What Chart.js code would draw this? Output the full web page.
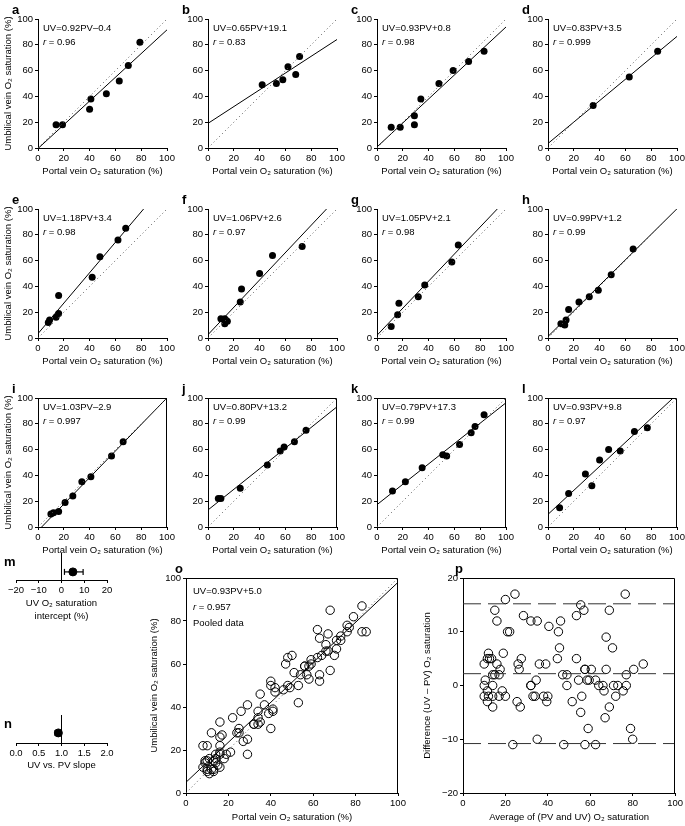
<!DOCTYPE html>
<html>
<head>
<meta charset="utf-8">
<script src="https://cdn.jsdelivr.net/npm/chart.js@4.4.0/dist/chart.umd.min.js"></script>
<style>
body { margin: 0; background: #fff; }
#wrap { position: relative; width: 685px; height: 826px; overflow: hidden; background: #fff; }
canvas { position: absolute; }
</style>
</head>
<body>
<div id="wrap"></div>
<script>
// --- data ---
const panelLetters = ['a', 'b', 'c', 'd', 'e', 'f', 'g', 'h', 'i', 'j', 'k', 'l'];

const pvA = [14, 19, 40, 41, 53, 63, 70, 79];
const uvA = [18, 18, 30, 38, 42, 52, 64, 82];
const pvB = [42, 53, 58, 62, 68, 71];
const uvB = [49, 50, 53, 63, 57, 71];
const pvC = [11, 18, 29, 29, 34, 48, 59, 71, 83];
const uvC = [16, 16, 25, 18, 38, 50, 60, 67, 75];
const pvD = [35, 63, 85];
const uvD = [33, 55, 75];
const pvE = [8, 9, 14, 16, 16, 42, 48, 62, 68];
const uvE = [12, 14, 16, 33, 19, 47, 63, 76, 85];
const pvF = [10, 13, 13, 15, 25, 26, 40, 50, 73];
const uvF = [15, 15, 11, 13, 28, 38, 50, 64, 71];
const pvG = [11, 16, 17, 32, 37, 58, 63];
const uvG = [9, 18, 27, 32, 41, 59, 72];
const pvH = [10, 13, 14, 16, 24, 32, 39, 49, 66];
const uvH = [11, 10, 14, 22, 28, 32, 37, 49, 69];
const pvI = [10, 12, 16, 21, 27, 34, 41, 57, 66];
const uvI = [10, 11, 12, 19, 24, 35, 39, 55, 66];
const pvJ = [8, 10, 25, 46, 56, 59, 67, 76];
const uvJ = [22, 22, 30, 48, 59, 62, 66, 75];
const pvK = [12, 22, 35, 51, 54, 64, 73, 76, 83];
const uvK = [28, 35, 46, 56, 55, 64, 73, 78, 87];
const pvL = [9, 16, 29, 34, 40, 47, 56, 67, 77];
const uvL = [15, 26, 41, 32, 52, 60, 59, 74, 77];

const slopes = [0.92, 0.65, 0.93, 0.83, 1.18, 1.06, 1.05, 0.99, 1.03, 0.80, 0.79, 0.93];
const intercepts = [-0.4, 19.1, 0.8, 3.5, 3.4, 2.6, 2.1, 1.2, -2.9, 13.2, 17.3, 9.8];
const rLabels = ['0.96', '0.83', '0.98', '0.999', '0.98', '0.97', '0.98', '0.99', '0.997', '0.99', '0.99', '0.97'];

const pooledFit = [0.93, 5.0];        // slope, intercept
const pooledR = '0.957';
const baLines = [15.2, 2.2, -10.8];   // upper limit, mean difference, lower limit

const interceptEst = [5.0];
const interceptCI = [1.3, 9.5];
const slopeEst = [0.93];
const slopeCI = [0.86, 1.0];

const pvValues = [pvA, pvB, pvC, pvD, pvE, pvF, pvG, pvH, pvI, pvJ, pvK, pvL];
const uvValues = [uvA, uvB, uvC, uvD, uvE, uvF, uvG, uvH, uvI, uvJ, uvK, uvL];

// --- setup ---
const FONT = "'Liberation Sans', Arial, sans-serif";
Chart.defaults.font.family = FONT;
Chart.defaults.color = '#000';
Chart.defaults.animation = false;

const wrap = document.getElementById('wrap');
function addCanvas(left, top, w, h) {
  const c = document.createElement('canvas');
  c.width = w; c.height = h;
  c.style.left = left + 'px'; c.style.top = top + 'px';
  c.style.width = w + 'px'; c.style.height = h + 'px';
  wrap.appendChild(c);
  return c;
}

const tickFont = { family: FONT, size: 9.5 };
const titleFont = { family: FONT, size: 9.5, lineHeight: 1.35 };

function axis(min, max, step, opts) {
  return {
    type: 'linear', min: min, max: max,
    ticks: {
      stepSize: step, font: tickFont, color: '#000', padding: 2, autoSkip: false, maxRotation: 0,
      callback: opts.fmt || (v => String(v).replace('-', '\u2212'))
    },
    grid: { display: true, drawOnChartArea: false, drawTicks: true, tickLength: 3, color: '#000', lineWidth: 1 },
    border: { display: true, color: '#000', width: 1 },
    title: opts.title ? { display: true, text: opts.title, font: titleFont, color: '#000', padding: { top: 2, bottom: 0 } } : { display: false },
    afterFit: s => {
      if (opts.size == null) return;
      if (s.isHorizontal()) s.height = opts.size; else s.width = opts.size;
    }
  };
}

// letters, equations and frame drawn on top of each chart
function annot(cfg) {
  return {
    id: 'annot',
    afterDraw(chart) {
      const ctx = chart.ctx, a = chart.chartArea;
      ctx.save();
      ctx.fillStyle = '#000';
      ctx.textBaseline = 'alphabetic';
      if (cfg.box) {
        ctx.strokeStyle = '#000'; ctx.lineWidth = 1;
        const l = Math.round(a.left) + 0.5, t = Math.round(a.top) + 0.5;
        const r = Math.round(a.right) - 0.5, b = Math.round(a.bottom) + 0.5;
        ctx.beginPath();
        ctx.moveTo(l, t); ctx.lineTo(r, t); ctx.lineTo(r, b);
        ctx.stroke();
      }
      if (cfg.letter) {
        ctx.font = 'bold 13px ' + FONT;
        ctx.fillText(cfg.letter, a.left + cfg.letterDx, a.top + cfg.letterDy);
      }
      (cfg.lines || []).forEach((line, k) => {
        let x = a.left + cfg.textDx;
        const y = a.top + cfg.textDy + k * cfg.lineGap;
        line.forEach(seg => {
          ctx.font = (seg[1] || '') + ' 9.5px ' + FONT;
          ctx.fillText(seg[0], x, y);
          x += ctx.measureText(seg[0]).width;
        });
      });
      ctx.restore();
    }
  };
}

function eqText(slope, icpt) {
  const sign = icpt < 0 ? '\u2013' : '+';
  return 'UV=' + slope.toFixed(2) + 'PV' + sign + Math.abs(icpt).toFixed(1);
}

function identityLine() {
  return { data: [{ x: 0, y: 0 }, { x: 100, y: 100 }], showLine: true, borderColor: '#555', borderWidth: 1, borderDash: [1, 3], pointRadius: 0 };
}
function fitLine(slope, icpt) {
  return { data: [{ x: 0, y: icpt }, { x: 100, y: slope * 100 + icpt }], showLine: true, borderColor: '#000', borderWidth: 1, pointRadius: 0 };
}

// --- panels a-l ---
const colLefts = [38, 208, 377, 548];
const rowTops = [19, 209, 398];
const PW = 129, PH = 129;

panelLetters.forEach((letter, i) => {
  const col = i % 4, row = Math.floor(i / 4);
  const yw = 38, xh = 30, padTop = 19, padRight = 14;
  const c = addCanvas(colLefts[col] - yw, rowTops[row] - padTop, yw + PW + padRight, padTop + PH + xh);
  const pts = pvValues[i].map((pv, k) => ({ x: pv, y: uvValues[i][k] }));
  new Chart(c, {
    type: 'scatter',
    data: {
      datasets: [
        identityLine(),
        fitLine(slopes[i], intercepts[i]),
        { data: pts, backgroundColor: '#000', borderColor: '#000', pointRadius: 3.5, borderWidth: 0 }
      ]
    },
    options: {
      responsive: false,
      layout: { padding: { top: padTop, right: padRight, left: 0, bottom: 0 } },
      plugins: { legend: { display: false }, tooltip: { enabled: false } },
      scales: {
        x: axis(0, 100, 20, { title: 'Portal vein O\u2082 saturation (%)', size: xh }),
        y: axis(0, 100, 20, { title: col === 0 ? 'Umbilical vein O\u2082 saturation (%)' : null, size: yw })
      }
    },
    plugins: [annot({
      box: row === 2, letter: letter, letterDx: -26, letterDy: -5,
      textDx: 5, textDy: 12, lineGap: 14,
      lines: [[[eqText(slopes[i], intercepts[i])]], [['r', 'italic'], [' = ' + rLabels[i]]]]
    })]
  });
});

// --- panels m and n: intercept and slope summaries ---
function forest(left, top, padTop, plotH, xh, min, max, step, est, ci, ref, ptY, title, fmt, letter) {
  const padL = 16, padR = 18, w = padL + 91 + padR;
  const c = addCanvas(left, top, w, padTop + plotH + xh);
  new Chart(c, {
    type: 'scatter',
    data: {
      datasets: [
        { data: [{ x: ref, y: 0 }, { x: ref, y: 1 }], showLine: true, borderColor: '#000', borderWidth: 1, pointRadius: 0 },
        { data: [{ x: ci[0], y: ptY }, { x: ci[1], y: ptY }], showLine: true, borderColor: '#000', borderWidth: 1.2,
          pointStyle: 'line', rotation: 90, pointRadius: 3, pointBorderWidth: 1.2, pointBorderColor: '#000' },
        { data: est.map(v => ({ x: v, y: ptY })), backgroundColor: '#000', borderColor: '#000', pointRadius: 4 }
      ]
    },
    options: {
      responsive: false,
      layout: { padding: { top: padTop, right: padR, left: padL, bottom: 0 } },
      plugins: { legend: { display: false }, tooltip: { enabled: false } },
      scales: {
        x: axis(min, max, step, { title: title, size: xh, fmt: fmt }),
        y: { type: 'linear', min: 0, max: 1, display: false }
      }
    },
    plugins: [annot({ letter: letter, letterDx: -12, letterDy: 13 })]
  });
}

forest(0, 545, 8, 27, 43, -20, 20, 10, interceptEst, interceptCI, 0, 0.3,
  ['UV O\u2082 saturation', 'intercept (%)'], v => String(v).replace('-', '\u2212'), 'm');
forest(0, 705, 10, 28, 29, 0, 2, 0.5, slopeEst, slopeCI, 1, 0.36,
  'UV vs. PV slope', v => v.toFixed(1), 'n');

// --- panel o: pooled ---
const pooledPts = [];
pvValues.forEach((arr, i) => arr.forEach((pv, k) => pooledPts.push({ x: pv, y: uvValues[i][k] })));
{
  const yw = 40, xh = 31, padTop = 20, padRight = 14;
  const c = addCanvas(186 - yw, 578 - padTop, yw + 212 + padRight, padTop + 215 + xh);
  new Chart(c, {
    type: 'scatter',
    data: {
      datasets: [
        identityLine(),
        fitLine(pooledFit[0], pooledFit[1]),
        { data: pooledPts, backgroundColor: 'rgba(0,0,0,0)', borderColor: '#000', pointRadius: 4.2, borderWidth: 1 }
      ]
    },
    options: {
      responsive: false,
      layout: { padding: { top: padTop, right: padRight, left: 0, bottom: 0 } },
      plugins: { legend: { display: false }, tooltip: { enabled: false } },
      scales: {
        x: axis(0, 100, 20, { title: 'Portal vein O\u2082 saturation (%)', size: xh }),
        y: axis(0, 100, 20, { title: 'Umbilical vein O\u2082 saturation (%)', size: yw })
      }
    },
    plugins: [annot({
      box: true, letter: 'o', letterDx: -11, letterDy: -5,
      textDx: 7, textDy: 15.5, lineGap: 16,
      lines: [[[eqText(pooledFit[0], pooledFit[1])]], [['r', 'italic'], [' = ' + pooledR]], [['Pooled data']]]
    })]
  });
}

// --- panel p: Bland-Altman ---
const baPts = pooledPts.map(p => ({ x: (p.x + p.y) / 2, y: p.y - p.x }));
{
  const yw = 44, xh = 31, padTop = 20, padRight = 9;
  const c = addCanvas(463 - yw, 578 - padTop, yw + 213 + padRight, padTop + 215 + xh);
  const dashed = baLines.map(v => ({
    data: [{ x: 0, y: v }, { x: 100, y: v }], showLine: true, borderColor: '#333', borderWidth: 1, borderDash: [18, 7], pointRadius: 0
  }));
  new Chart(c, {
    type: 'scatter',
    data: {
      datasets: dashed.concat([
        { data: baPts, backgroundColor: 'rgba(0,0,0,0)', borderColor: '#000', pointRadius: 4.2, borderWidth: 1 }
      ])
    },
    options: {
      responsive: false,
      layout: { padding: { top: padTop, right: padRight, left: 0, bottom: 0 } },
      plugins: { legend: { display: false }, tooltip: { enabled: false } },
      scales: {
        x: axis(0, 100, 20, { title: 'Average of (PV and UV) O\u2082 saturation', size: xh }),
        y: axis(-20, 20, 10, { title: 'Difference (UV \u2013 PV) O\u2082 saturation', size: yw })
      }
    },
    plugins: [annot({ box: true, letter: 'p', letterDx: -8, letterDy: -5 })]
  });
}
</script>
</body>
</html>
